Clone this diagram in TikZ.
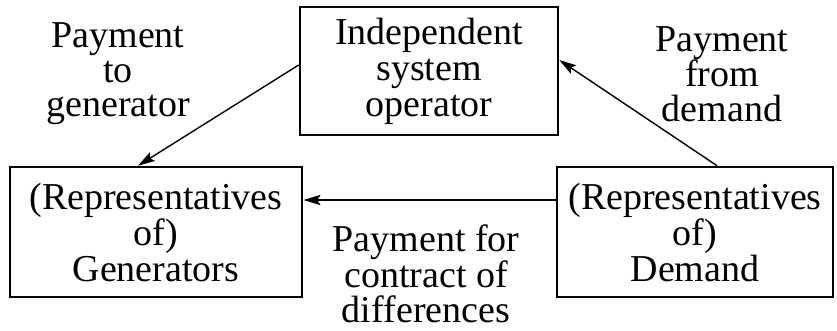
\documentclass[tikz,border=0pt]{standalone}
\usepackage{fontspec}
\setmainfont{Liberation Serif}
\usepackage{tikz}
\usetikzlibrary{arrows.meta,positioning,calc}

\begin{document}
\begin{tikzpicture}[
    x=1pt, y=-1pt,
    agentbox/.style={rectangle, draw=black, line width=2.6pt, align=center, inner sep=0pt, font=\fontsize{38}{36}\selectfont},
    lbl/.style={align=center, inner sep=0pt, font=\fontsize{38}{34.5}\selectfont},
    arrow/.style={-{Stealth[length=17pt, width=10pt, inset=3pt]}, line width=1.4pt, draw=black}
]
    \useasboundingbox (0,0) rectangle (837,330);

    \node [agentbox, minimum width=258pt, minimum height=128pt] (iso) at (429,71) {Independent\\system\\operator};
    \node [agentbox, minimum width=292pt, minimum height=130pt] (gen) at (156,232) {(Representatives\\of)\\Generators};
    \node [agentbox, minimum width=276pt, minimum height=130pt] (dem) at (695,232) {(Representatives\\of)\\Demand};

    \node [lbl] (pgen) at (118,74) {Payment\\to\\generator};
    \node [lbl] (pdem) at (722,74) {Payment\\from\\demand};
    \node [lbl] (pcfd) at (426,274) {Payment for\\contract of\\differences};

    \draw [arrow] ([yshift=6pt]iso.west) -- ([xshift=-18pt]gen.north);
    \draw [arrow] ([xshift=22pt]dem.north) -- ([yshift=11pt]iso.east);
    \draw [arrow, line width=2.4pt] ([yshift=32pt]dem.west) -- ([yshift=32pt]gen.east);
\end{tikzpicture}
\end{document}
